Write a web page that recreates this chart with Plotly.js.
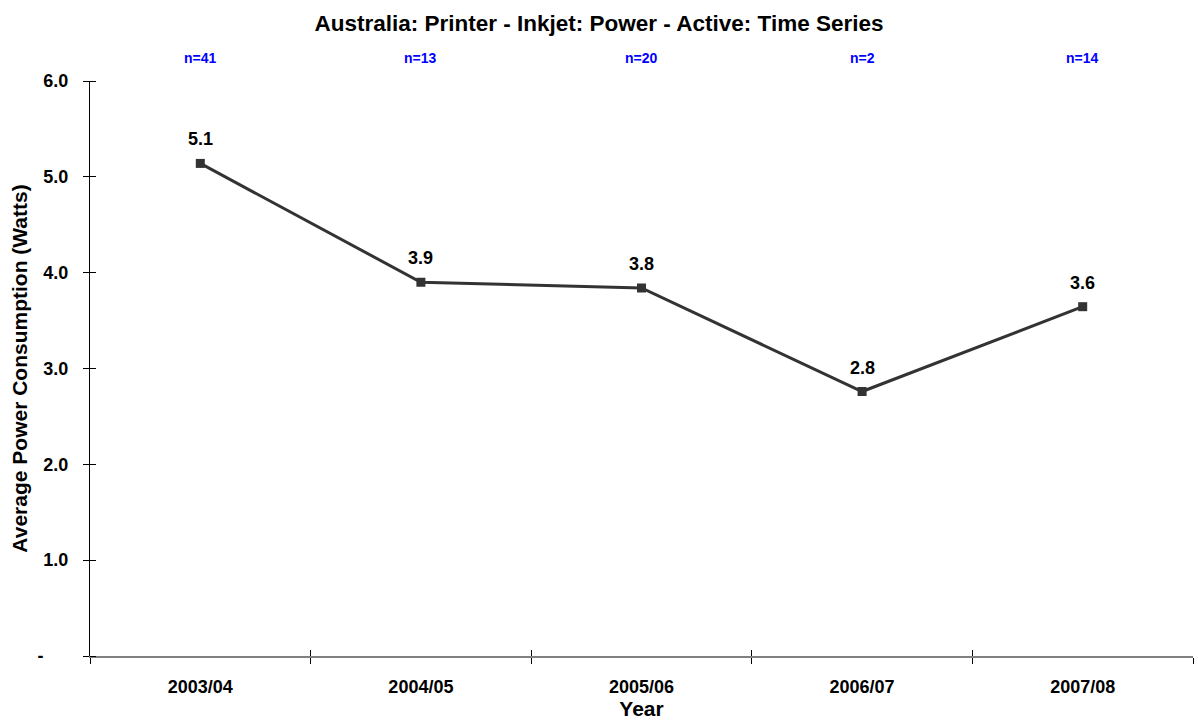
<!DOCTYPE html>
<html>
<head>
<meta charset="utf-8">
<script src="https://cdn.plot.ly/plotly-3.0.1.min.js"></script>
<style>html,body{margin:0;padding:0;background:#fff;}#chart{width:1198px;height:722px;}</style>
</head>
<body>
<div id="chart"></div>
<script>
var years = ["2003/04", "2004/05", "2005/06", "2006/07", "2007/08"];
var avgPower = [5.14, 3.90, 3.84, 2.76, 3.645];
var sampleCounts = [41, 13, 20, 2, 14];
var yTickVals = [0, 1, 2, 3, 4, 5, 6];
var yTickText = ["-&nbsp;&nbsp;&nbsp;&nbsp;&nbsp;", "1.0", "2.0", "3.0", "4.0", "5.0", "6.0"];

var fontFam = "Liberation Sans, Arial, sans-serif";

var trace = {
  x: years,
  y: avgPower,
  type: "scatter",
  mode: "lines+markers",
  line: {color: "#333333", width: 3},
  marker: {symbol: "square", size: 9, color: "#333333"},
  cliponaxis: false,
  hoverinfo: "skip"
};

// invisible twin used only to draw the inner half of the crossing x tick marks
var twin = {
  x: years, y: avgPower, xaxis: "x2", yaxis: "y2",
  type: "scatter", mode: "lines", line: {width: 0, color: "rgba(0,0,0,0)"},
  hoverinfo: "skip", showlegend: false
};

var annotations = [];
years.forEach(function (yr, i) {
  annotations.push({
    x: yr, xref: "x", y: 1.0, yref: "paper",
    yshift: 23, yanchor: "middle",
    text: "<b>n=" + sampleCounts[i] + "</b>",
    showarrow: false,
    font: {family: fontFam, size: 14, color: "#0000ff"}
  });
  annotations.push({
    x: yr, xref: "x", y: avgPower[i], yref: "y",
    yshift: 24, yanchor: "middle",
    text: "<b>" + avgPower[i].toFixed(1) + "</b>",
    showarrow: false,
    font: {family: fontFam, size: 18, color: "#000"}
  });
});

var boldTicks = yTickText.map(function (t) { return "<b>" + t + "</b>"; });

var layout = {
  width: 1198, height: 722,
  margin: {l: 90, r: 5, t: 81, b: 66},
  paper_bgcolor: "#fff", plot_bgcolor: "#fff",
  showlegend: false,
  font: {family: fontFam, color: "#000"},
  title: {
    text: "<b>Australia: Printer - Inkjet: Power - Active: Time Series</b>",
    font: {family: fontFam, size: 22.5, color: "#000"},
    x: 0.5, xanchor: "center", y: 0.968, yanchor: "middle"
  },
  xaxis: {
    type: "category",
    range: [-0.5, 4.5],
    tickson: "boundaries",
    ticks: "outside", ticklen: 6, tickwidth: 1, tickcolor: "#000",
    showline: true, linecolor: "#808080", linewidth: 2,
    showgrid: false, zeroline: false,
    tickfont: {family: fontFam, size: 18, color: "#000"},
    tickprefix: "<b>", ticksuffix: "</b>",
    ticklabelstandoff: 13,
    title: {text: "<b>Year</b>", font: {family: fontFam, size: 21, color: "#000"}, standoff: 1}
  },
  yaxis: {
    range: [0, 6],
    tickvals: yTickVals, ticktext: boldTicks,
    ticks: "outside", ticklen: 6, tickwidth: 1, tickcolor: "#000",
    minor: {tickvals: yTickVals, ticks: "inside", ticklen: 6, tickwidth: 1, tickcolor: "#000", showgrid: false},
    showline: true, linecolor: "#000", linewidth: 1,
    showgrid: false, zeroline: false,
    tickfont: {family: fontFam, size: 18, color: "#000"},
    ticklabelstandoff: 11,
    title: {text: "<b>Average Power Consumption (Watts)</b>", font: {family: fontFam, size: 21, color: "#000"}, standoff: 4}
  },
  xaxis2: {
    type: "category", overlaying: "x", anchor: "y2", side: "bottom",
    range: [-0.5, 4.5], tickson: "boundaries",
    ticks: "inside", ticklen: 6, tickwidth: 1, tickcolor: "#000",
    showticklabels: false, showline: false, showgrid: false, zeroline: false
  },
  yaxis2: {
    overlaying: "y", anchor: "x2", side: "left",
    range: [0, 6], visible: true,
    showticklabels: false, ticks: "", showline: false, showgrid: false, zeroline: false
  },
  annotations: annotations
};

Plotly.newPlot("chart", [twin, trace], layout, {displayModeBar: false, staticPlot: true});
</script>
</body>
</html>
